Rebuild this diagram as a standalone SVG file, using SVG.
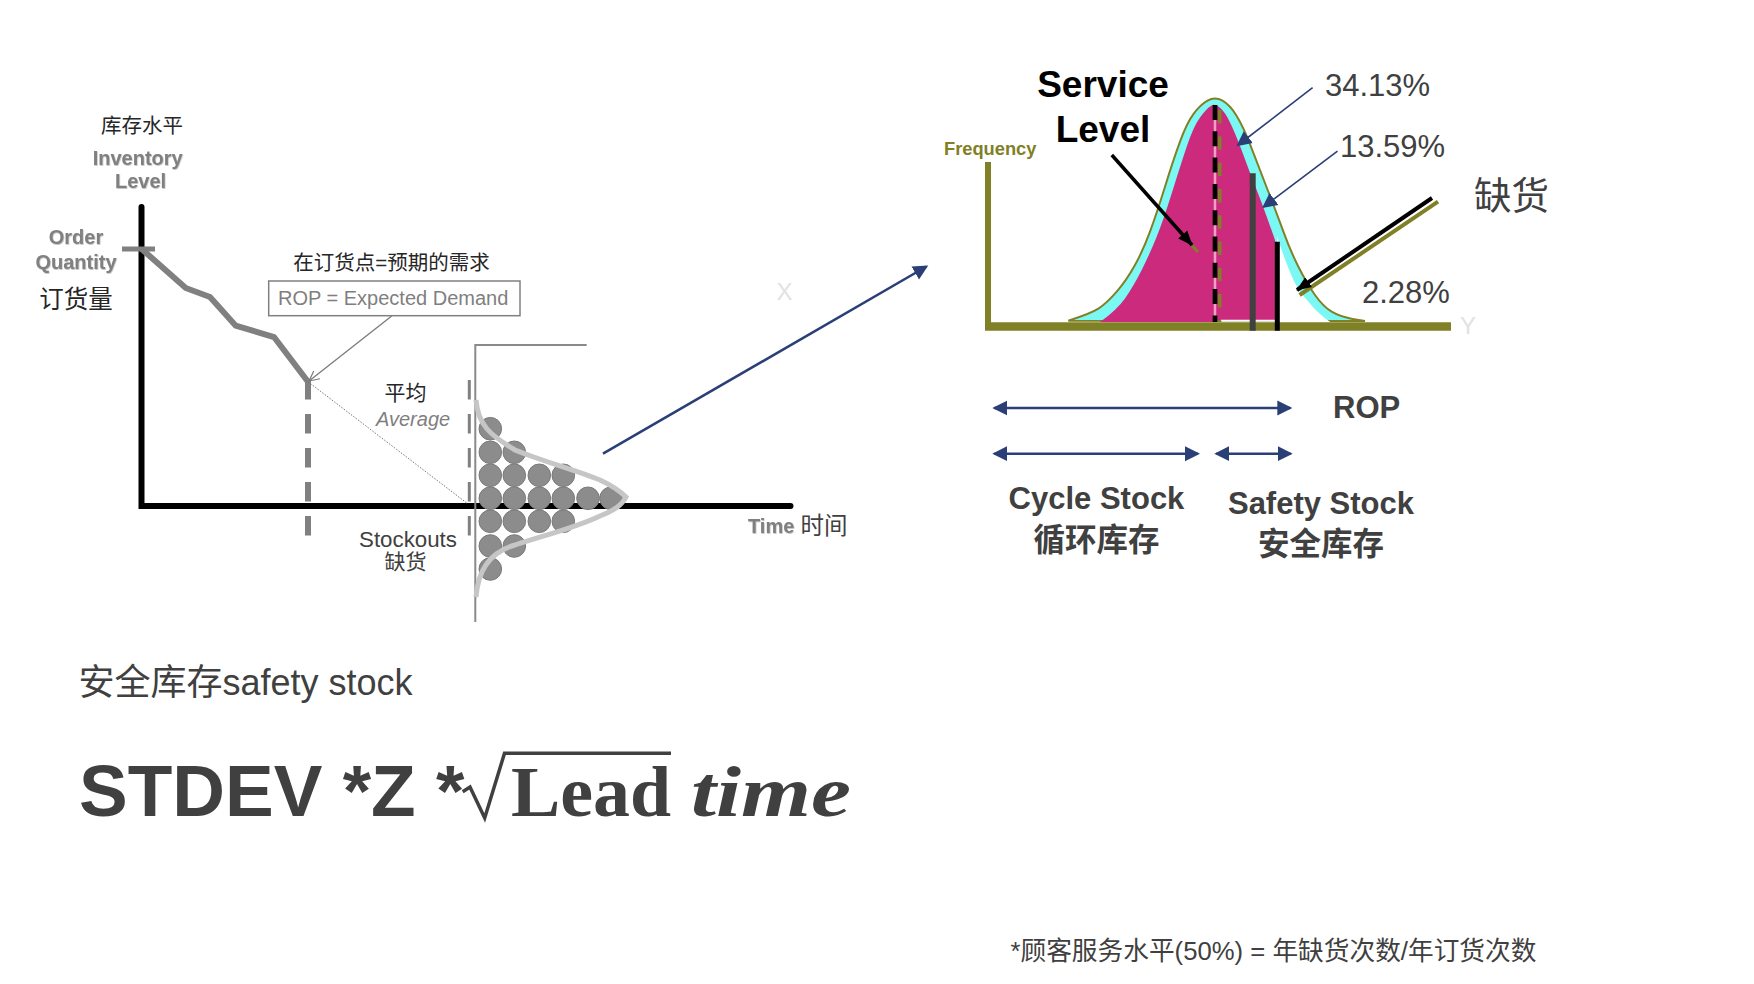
<svg xmlns="http://www.w3.org/2000/svg" width="1754" height="984" viewBox="0 0 1754 984">
<style>
text{font-family:"Liberation Sans","Noto Sans CJK SC",sans-serif;fill:#404040}
.mid{text-anchor:middle}
.lab{font-weight:700;fill:#808080;font-size:20px;filter:url(#sh)}
.dk{fill:#262626;font-size:20.5px}
.blue{stroke:#2b3f77;fill:none;stroke-width:2.5}
.thin{stroke-width:1.6}
.cir{fill:#8c8c8c;stroke:#7a7a7a;stroke-width:1}
.faint{fill:#e2e2e2}
.ol{stroke:#808026;fill:none}
</style>
<defs>
<filter id="sh" x="-10%" y="-10%" width="120%" height="130%"><feDropShadow dx="0.6" dy="0.8" stdDeviation="0.7" flood-color="#999" flood-opacity="0.7"/></filter>
<marker id="bh" markerUnits="userSpaceOnUse" markerWidth="16" markerHeight="16" refX="13" refY="8" orient="auto-start-reverse"><path d="M0,0.5L15,8L0,15.5z" fill="#2b3f77"/></marker>
<marker id="kh" markerUnits="userSpaceOnUse" markerWidth="16" markerHeight="14" refX="14" refY="7" orient="auto"><path d="M0,1L15,7L0,13z" fill="#000"/></marker>
<marker id="oh" markerUnits="userSpaceOnUse" markerWidth="12" markerHeight="12" refX="11" refY="6" orient="auto"><path d="M1,1L11,6L1,11" fill="none" stroke="#7a7a7a" stroke-width="1.2"/></marker>
</defs>
<rect width="1754" height="984" fill="#fff"/>

<g id="inventory-chart">
<path d="M141.5 207V506H790.5" fill="none" stroke="#000" stroke-width="6" stroke-linecap="round"/>
<path d="M122 249H155" stroke="#808080" stroke-width="5"/>
<path d="M141.7 249L185.7 288L210 297L235.7 325.7L274 337L308 381.7" fill="none" stroke="#808080" stroke-width="6"/>
<path d="M308 380V540" stroke="#808080" stroke-width="6" stroke-dasharray="19.5 14.5"/>
<path d="M469.3 380V540" stroke="#808080" stroke-width="3" stroke-dasharray="19.5 14.5"/>
</g>

<g id="distribution">
<path d="M475.3 622V345H586.7" fill="none" stroke="#8a8a8a" stroke-width="2"/>
<g>
<circle class="cir" cx="490.3" cy="428.7" r="11.3"/>
<circle class="cir" cx="490.3" cy="452.3" r="11.3"/><circle class="cir" cx="514.3" cy="452.3" r="11.3"/>
<circle class="cir" cx="490.3" cy="475.3" r="11.3"/><circle class="cir" cx="514.3" cy="475.3" r="11.3"/><circle class="cir" cx="539.3" cy="475.3" r="11.3"/><circle class="cir" cx="563.3" cy="475.3" r="11.3"/>
<circle class="cir" cx="490.3" cy="498.3" r="11.3"/><circle class="cir" cx="514.3" cy="498.3" r="11.3"/><circle class="cir" cx="539.3" cy="498.3" r="11.3"/><circle class="cir" cx="563.3" cy="498.3" r="11.3"/><circle class="cir" cx="588" cy="498.3" r="11.3"/><circle class="cir" cx="611" cy="498.3" r="11.3"/>
<circle class="cir" cx="490.3" cy="521.3" r="11.3"/><circle class="cir" cx="514.3" cy="521.3" r="11.3"/><circle class="cir" cx="539.3" cy="521.3" r="11.3"/><circle class="cir" cx="563.3" cy="521.3" r="11.3"/>
<circle class="cir" cx="490.3" cy="546" r="11.3"/><circle class="cir" cx="514.3" cy="546" r="11.3"/>
<circle class="cir" cx="490.3" cy="569" r="11.3"/>
</g>
<path d="M476 400C478 425 490 435 515 450C545 462 575 470 600 480C615 487 622 493 626 497C622 505 615 510 600 516C575 528 545 535 515 545C490 552 478 570 476 597" fill="none" stroke="#c6c6c6" stroke-width="5"/>
</g>

<g id="connectors">
<path d="M391.7 316L309 381" fill="none" stroke="#7a7a7a" stroke-width="1.3" marker-end="url(#oh)"/>
<path d="M308 381.7L466.7 503" fill="none" stroke="#777" stroke-width="1" stroke-dasharray="1.5 1.5"/>
<path class="blue" d="M603 453.7L926.5 266.5" marker-end="url(#bh)"/>
<path class="blue" d="M994.3 408H1290.3" marker-start="url(#bh)" marker-end="url(#bh)"/>
<path class="blue" d="M994.3 453.7H1198" marker-start="url(#bh)" marker-end="url(#bh)"/>
<path class="blue" d="M1216.3 453.7H1290.7" marker-start="url(#bh)" marker-end="url(#bh)"/>
</g>

<g id="bell">
<path d="M988 162V328" class="ol" stroke-width="6"/>
<path d="M1068.3 320.7Q1090 314 1098.4 308.7Q1106.7 303.3 1116.7 291.7Q1126.7 280 1135 265Q1143.3 250 1150 231.7Q1156.7 213.3 1165 186.7Q1173.3 160 1180 141.7Q1186.7 123.3 1193.4 114.2Q1200 105 1207.5 100.7Q1215 96.5 1222.5 100.7Q1230 105 1236.7 115.9Q1243.3 126.7 1250 144.2Q1256.7 161.7 1266.7 187.5Q1276.7 213.3 1283.4 231.7Q1290 250 1298.4 266.7Q1306.7 283.3 1315 295Q1323.3 306.7 1331.7 311.7Q1340 316.7 1352.5 318.9Q1365 321 1365 321Z" fill="#7cf8f4" stroke="#808026" stroke-width="2"/>
<path d="M1277 236Q1283 255 1290 272Q1297 290 1307 300Q1318 314 1331 322.5H1277Z" fill="#fff"/>
<path d="M1100 322Q1116.7 310 1125 298.4Q1133.3 286.7 1141.7 270Q1150 253.3 1156.7 236.7Q1163.3 220 1171.7 193.4Q1180 166.7 1186.7 146.7Q1193.3 126.7 1200 117.5Q1206.7 108.3 1210.9 106Q1215 103 1220 107.8Q1225 111.7 1230.9 124.2Q1236.7 136.7 1243.4 155Q1250 173.3 1256.7 190Q1263.3 206.7 1275 240V320H1216V322Z" fill="#cc2a7c"/>
<path d="M1221 320.7H1277" stroke="#fff" stroke-width="2"/>
<path d="M985 326.5H1451" class="ol" stroke-width="8.4"/>
<path d="M1219.7 110V322" class="ol" stroke-width="3.5" stroke-dasharray="13.5 12.8"/>
<path d="M1215 105V322" stroke="#f0a0c8" stroke-width="2.5" fill="none"/>
<path d="M1215 105V322" stroke="#000" stroke-width="4.7" stroke-dasharray="15 11.3" fill="none"/>
<path d="M1252.7 173.3V330.7" stroke="#404040" stroke-width="6"/>
<path d="M1277.3 241.7V330.7" stroke="#000" stroke-width="5"/>
<path d="M1438 201.7L1299.6 295" class="ol" stroke-width="4"/>
<path d="M1432 198L1297 290" stroke="#000" stroke-width="4" fill="none" marker-end="url(#kh)"/>
<path d="M1188 241L1198 252" class="ol" stroke-width="3"/>
<path d="M1111.8 155L1192 245" stroke="#000" stroke-width="3.5" fill="none" marker-end="url(#kh)"/>
<path class="blue thin" d="M1312.6 87.7L1238 145" marker-end="url(#bh)"/>
<path class="blue thin" d="M1337.5 151.2L1263.7 206.8" marker-end="url(#bh)"/>
</g>

<g id="formula">
<text x="78.5" y="694.5" font-size="36">安全库存safety stock</text>
<text x="79" y="815.7" font-size="73" font-weight="700">STDEV *Z *</text>
<path d="M462.7 791.7L470 787L484.7 818L504.5 753.3H671" fill="none" stroke="#404040" stroke-width="3.5"/>
<text x="511" y="815.7" font-size="72" font-weight="700" style="font-family:'Liberation Serif',serif" textLength="160" lengthAdjust="spacingAndGlyphs">Lead</text>
<text x="691" y="815.7" font-size="72" font-weight="700" font-style="italic" style="font-family:'Liberation Serif',serif" textLength="160" lengthAdjust="spacingAndGlyphs">time</text>
</g>

<g id="chart-labels">
<text class="dk mid" x="142" y="133">库存水平</text>
<text class="lab mid" x="137.7" y="165">Inventory</text>
<text class="lab mid" x="140.5" y="188">Level</text>
<text class="lab mid" x="76" y="244">Order</text>
<text class="lab mid" x="76" y="269">Quantity</text>
<text class="mid" x="76" y="308" font-size="24.5" style="fill:#262626">订货量</text>
<text class="dk mid" x="391.5" y="269.5">在订货点=预期的需求</text>
<g id="rop-box"><rect x="268.7" y="281" width="251.3" height="34.7" fill="#fff" stroke="#808080" stroke-width="1.5"/>
<text x="278" y="305" font-size="20" style="fill:#7f7f7f">ROP = Expected Demand</text></g>
<text class="dk mid" x="405.5" y="399.5" style="font-size:21px">平均</text>
<text x="376" y="426" font-size="20" font-style="italic" style="fill:#7f7f7f">Average</text>
<text class="mid" x="408" y="546.7" font-size="22.3">Stockouts</text>
<text class="mid" x="405.5" y="569" font-size="21">缺货</text>
<text class="lab" x="748" y="532.7">Time</text>
<text x="800.5" y="533.5" font-size="23.5">时间</text>
<text class="faint" x="776.5" y="300" font-size="24">X</text>
</g>

<g id="bell-labels">
<text x="944" y="155" font-size="18.3" font-weight="700" style="fill:#808026">Frequency</text>
<text class="mid" x="1103" y="97" font-size="37" font-weight="700" style="fill:#000">Service</text>
<text class="mid" x="1103" y="141.5" font-size="37" font-weight="700" style="fill:#000">Level</text>
<text x="1325" y="95.5" font-size="31">34.13%</text>
<text x="1340" y="156.7" font-size="31">13.59%</text>
<text x="1362" y="302.7" font-size="31">2.28%</text>
<text x="1474" y="209" font-size="37.5">缺货</text>
<text class="faint" x="1460" y="334" font-size="24">Y</text>
</g>

<g id="stock-labels">
<text x="1333" y="418" font-size="31" font-weight="700">ROP</text>
<text class="mid" x="1096.5" y="509" font-size="31" font-weight="700">Cycle Stock</text>
<text class="mid" x="1096.5" y="551" font-size="31.5" font-weight="700">循环库存</text>
<text class="mid" x="1321" y="514" font-size="31" font-weight="700">Safety Stock</text>
<text class="mid" x="1321" y="555" font-size="31.5" font-weight="700">安全库存</text>
</g>

<g id="footnote">
<text x="1010.5" y="960" font-size="25.7">*顾客服务水平(50%) = 年缺货次数/年订货次数</text>
</g>
</svg>
